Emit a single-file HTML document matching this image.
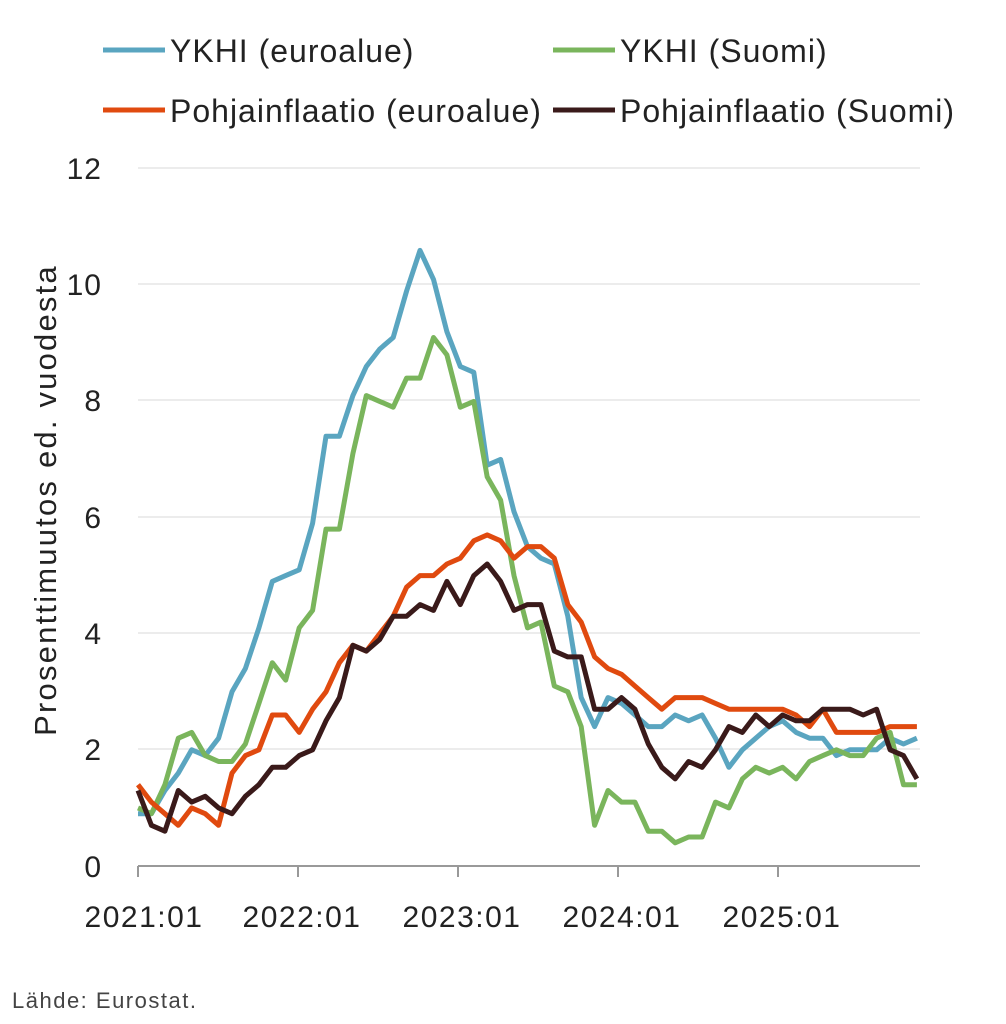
<!DOCTYPE html>
<html><head><meta charset="utf-8"><style>
html,body{margin:0;padding:0;background:#fff;}
svg{display:block;font-family:"Liberation Sans",sans-serif;}
</style></head><body>
<svg id="c" width="1006" height="1024" viewBox="0 0 1006 1024">
<g stroke="#d9d9d9" stroke-width="1">
<line x1="138" x2="920" y1="168" y2="168"/><line x1="138" x2="920" y1="284" y2="284"/>
<line x1="138" x2="920" y1="400" y2="400"/><line x1="138" x2="920" y1="517" y2="517"/>
<line x1="138" x2="920" y1="633" y2="633"/><line x1="138" x2="920" y1="749" y2="749"/>
</g>
<g stroke="#999" stroke-width="2">
<line x1="138" x2="920" y1="866" y2="866"/>
<line x1="138" x2="138" y1="866" y2="877"/><line x1="298" x2="298" y1="866" y2="877"/>
<line x1="458" x2="458" y1="866" y2="877"/><line x1="618" x2="618" y1="866" y2="877"/>
<line x1="778" x2="778" y1="866" y2="877"/>
</g>
<g font-size="30" fill="#222" text-anchor="end" letter-spacing="1">
<text x="102" y="179">12</text><text x="102" y="295">10</text><text x="102" y="411">8</text>
<text x="102" y="528">6</text><text x="102" y="644">4</text><text x="102" y="760">2</text><text x="102" y="877">0</text>
</g>
<g font-size="30" fill="#222" text-anchor="middle" letter-spacing="1.5">
<text x="144" y="927">2021:01</text><text x="302" y="927">2022:01</text><text x="462" y="927">2023:01</text>
<text x="622" y="927">2024:01</text><text x="782" y="927">2025:01</text>
</g>
<text transform="translate(56,500) rotate(-90)" font-size="31" fill="#222" text-anchor="middle" letter-spacing="2.2">Prosenttimuutos ed. vuodesta</text>
<text x="12" y="1008" font-size="22" fill="#444" letter-spacing="1.5">Lähde: Eurostat.</text>
<g font-size="32" fill="#222" letter-spacing="1">
<line x1="103" x2="165" y1="50" y2="50" stroke="#5aa5c0" stroke-width="5"/><text x="170" y="62">YKHI (euroalue)</text>
<line x1="553" x2="615" y1="50" y2="50" stroke="#7ab55c" stroke-width="5"/><text x="620" y="62">YKHI (Suomi)</text>
<line x1="103" x2="165" y1="110" y2="110" stroke="#e04a0f" stroke-width="5"/><text x="170" y="122">Pohjainflaatio (euroalue)</text>
<line x1="553" x2="615" y1="110" y2="110" stroke="#3a1a1a" stroke-width="5"/><text x="620" y="122">Pohjainflaatio (Suomi)</text>
</g>
<g id="lines" fill="none" stroke-width="5" stroke-linejoin="round"></g>
</svg>
<script>
var S=[
["#5aa5c0",[0.9,0.9,1.3,1.6,2.0,1.9,2.2,3.0,3.4,4.1,4.9,5.0,5.1,5.9,7.4,7.4,8.1,8.6,8.9,9.1,9.9,10.6,10.1,9.2,8.6,8.5,6.9,7.0,6.1,5.5,5.3,5.2,4.3,2.9,2.4,2.9,2.8,2.6,2.4,2.4,2.6,2.5,2.6,2.2,1.7,2.0,2.2,2.4,2.5,2.3,2.2,2.2,1.9,2.0,2.0,2.0,2.2,2.1,2.2]],
["#7ab55c",[1.0,0.9,1.4,2.2,2.3,1.9,1.8,1.8,2.1,2.8,3.5,3.2,4.1,4.4,5.8,5.8,7.1,8.1,8.0,7.9,8.4,8.4,9.1,8.8,7.9,8.0,6.7,6.3,5.0,4.1,4.2,3.1,3.0,2.4,0.7,1.3,1.1,1.1,0.6,0.6,0.4,0.5,0.5,1.1,1.0,1.5,1.7,1.6,1.7,1.5,1.8,1.9,2.0,1.9,1.9,2.2,2.3,1.4,1.4]],
["#e04a0f",[1.4,1.1,0.9,0.7,1.0,0.9,0.7,1.6,1.9,2.0,2.6,2.6,2.3,2.7,3.0,3.5,3.8,3.7,4.0,4.3,4.8,5.0,5.0,5.2,5.3,5.6,5.7,5.6,5.3,5.5,5.5,5.3,4.5,4.2,3.6,3.4,3.3,3.1,2.9,2.7,2.9,2.9,2.9,2.8,2.7,2.7,2.7,2.7,2.7,2.6,2.4,2.7,2.3,2.3,2.3,2.3,2.4,2.4,2.4]],
["#3a1a1a",[1.3,0.7,0.6,1.3,1.1,1.2,1.0,0.9,1.2,1.4,1.7,1.7,1.9,2.0,2.5,2.9,3.8,3.7,3.9,4.3,4.3,4.5,4.4,4.9,4.5,5.0,5.2,4.9,4.4,4.5,4.5,3.7,3.6,3.6,2.7,2.7,2.9,2.7,2.1,1.7,1.5,1.8,1.7,2.0,2.4,2.3,2.6,2.4,2.6,2.5,2.5,2.7,2.7,2.7,2.6,2.7,2.0,1.9,1.5]]];
var g=document.getElementById("lines");
S.forEach(function(s){var p=s[1].map(function(v,i){return (138+i*13.43).toFixed(1)+","+(866-v*58.08).toFixed(1)}).join(" ");
var e=document.createElementNS("http://www.w3.org/2000/svg","polyline");e.setAttribute("points",p);e.setAttribute("stroke",s[0]);g.appendChild(e);});
</script>
</body></html>
